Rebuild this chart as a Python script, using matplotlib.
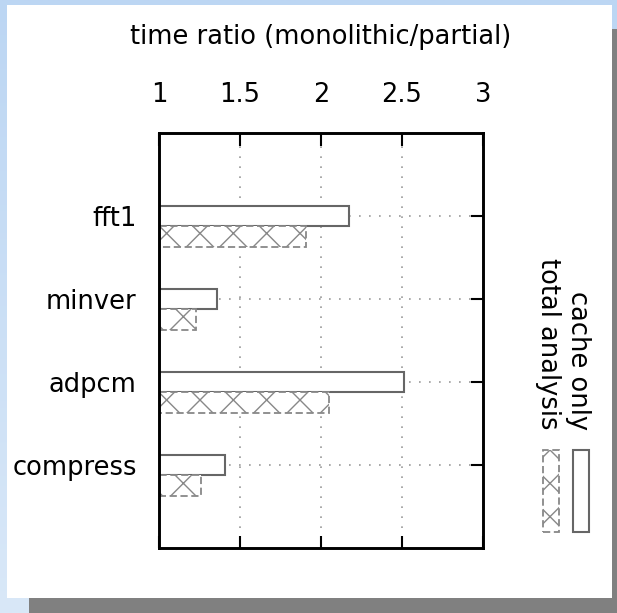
import numpy as np
import matplotlib
matplotlib.use("Agg")
import matplotlib.pyplot as plt
from matplotlib.patches import Rectangle

benchmarks = ["fft1", "minver", "adpcm", "compress"]
cache_only = [2.17, 1.36, 2.51, 1.41]
total_analysis = [1.91, 1.23, 2.05, 1.26]
xticks = [1, 1.5, 2, 2.5, 3]

plt.rcParams["font.family"] = ["DejaVu Sans"]
fs = 18.5
W, H = 617, 613

fig = plt.figure(figsize=(W / 100, H / 100), dpi=100)

# light blue page background with a soft vertical gradient
bg = fig.add_axes([0, 0, 1, 1], zorder=-10)
bg.imshow(np.linspace(0, 1, 256).reshape(-1, 1), cmap=matplotlib.colors.LinearSegmentedColormap.from_list(
    "bg", ["#bcd6f3", "#d9e8f8"]), aspect="auto", extent=[0, 1, 0, 1])
bg.axis("off")

# grey drop shadow and white panel
fig.patches.append(Rectangle((29 / W, 0), 588 / W, 1 - 29 / H, transform=fig.transFigure,
                             facecolor="#808080", edgecolor="none", zorder=-5))
fig.patches.append(Rectangle((7 / W, 1 - 598 / H), 605 / W, 593 / H, transform=fig.transFigure,
                             facecolor="white", edgecolor="none", zorder=-4))

ax = fig.add_axes([159 / W, 1 - 548 / H, 324 / W, 415 / H])
ax.set_facecolor("white")

y = np.arange(len(benchmarks))
h = 0.25
ax.barh(y, cache_only, height=h, color="white", edgecolor="#666666", linewidth=1.5, zorder=3)
ax.barh(y + h, total_analysis, height=h, color="white", edgecolor="#888888", linewidth=1.3,
        linestyle=(0, (4, 2)), hatch="x", zorder=3)

ax.set_xlim(1, 3)
ax.set_ylim(4, -1)
ax.set_xticks(xticks)
ax.set_xticklabels([f"{t:g}" for t in xticks])
ax.set_yticks(y)
ax.set_yticklabels(benchmarks)

ax.xaxis.set_label_position("top")
ax.set_xlabel("time ratio (monolithic/partial)", fontsize=fs, labelpad=27)

ax.tick_params(axis="x", direction="in", length=9, width=1.5, top=True, bottom=True,
               labeltop=True, labelbottom=False, labelsize=fs, pad=18)
ax.tick_params(axis="y", direction="in", length=9, width=1.5, left=True, right=True,
               labelsize=fs, pad=16)

ax.grid(True, color="#999999", linestyle=(0, (1, 5)), linewidth=1.2)
ax.set_axisbelow(True)
for s in ax.spines.values():
    s.set_linewidth(2.1)
    s.set_zorder(5)

# rotated key on the right
fig.text(578 / W, 1 - 430 / H, "cache only", rotation=-90, fontsize=fs, ha="center", va="bottom")
fig.text(548 / W, 1 - 430 / H, "total analysis", rotation=-90, fontsize=fs, ha="center", va="bottom")
fig.patches.append(Rectangle((573 / W, 1 - 532 / H), 16 / W, 82 / H, transform=fig.transFigure,
                             facecolor="white", edgecolor="#666666", linewidth=1.5))
fig.patches.append(Rectangle((543 / W, 1 - 532 / H), 16 / W, 82 / H, transform=fig.transFigure,
                             facecolor="white", edgecolor="#888888", linewidth=1.3,
                             linestyle=(0, (4, 2)), hatch="x"))

fig.savefig("out.png", dpi=100, facecolor=fig.get_facecolor())
